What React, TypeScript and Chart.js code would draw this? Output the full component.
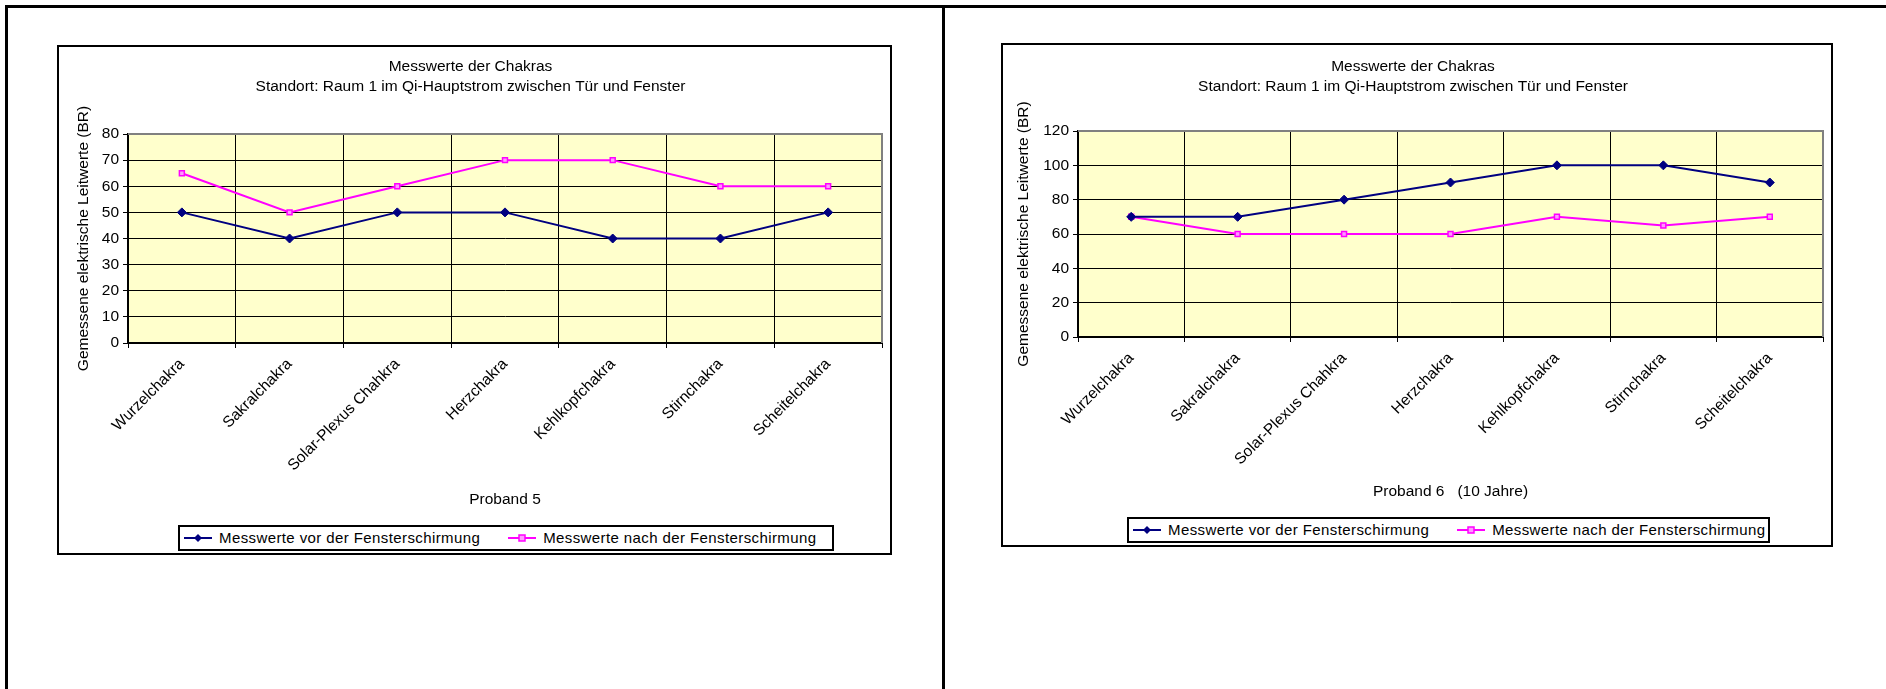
import React, { useEffect, useRef } from "react";
import { Chart, registerables } from "chart.js";

Chart.register(...registerables);

// ---------- data ----------
const categories = [
  "Wurzelchakra",
  "Sakralchakra",
  "Solar-Plexus Chahkra",
  "Herzchakra",
  "Kehlkopfchakra",
  "Stirnchakra",
  "Scheitelchakra",
];
const seriesLabels = [
  "Messwerte vor der Fensterschirmung",
  "Messwerte nach der Fensterschirmung",
];
const proband5Vor = [50, 40, 50, 50, 40, 40, 50];
const proband5Nach = [65, 50, 60, 70, 70, 60, 60];
const proband6Vor = [70, 70, 80, 90, 100, 100, 90];
const proband6Nach = [70, 60, 60, 60, 70, 65, 70];
const titleLines = [
  "Messwerte der Chakras",
  "Standort: Raum 1 im Qi-Hauptstrom zwischen Tür und Fenster",
];
const yAxisTitle = "Gemessene elektrische Leitwerte (BR)";
const xTitle5 = "Proband 5";
const xTitle6 = "Proband 6   (10 Jahre)";
const yMax5 = 80;
const yStep5 = 10;
const yMax6 = 120;
const yStep6 = 20;

// ---------- styles ----------
const FONT = "'Liberation Sans', Arial, sans-serif";
const FONT_SIZE = 15.5;
const NAVY = "#000080";
const MAGENTA = "#FF00FF";
const GREY = "#808080";
const PLOT_BG = "#FFFFCC";

const plotBgPlugin = {
  id: "plotBg",
  beforeDraw(chart: any) {
    const { ctx, chartArea: a } = chart;
    ctx.save();
    ctx.fillStyle = PLOT_BG;
    ctx.fillRect(a.left, a.top, a.right - a.left, a.bottom - a.top);
    ctx.restore();
  },
  beforeDatasetsDraw(chart: any) {
    const { ctx, chartArea: a } = chart;
    ctx.save();
    ctx.strokeStyle = GREY;
    ctx.lineWidth = 2;
    ctx.beginPath();
    ctx.moveTo(a.left, a.top);
    ctx.lineTo(a.right, a.top);
    ctx.lineTo(a.right, a.bottom);
    ctx.stroke();
    ctx.restore();
  },
};

type ChartProps = {
  left: number;
  top: number;
  width: number;
  height: number;
  vor: number[];
  nach: number[];
  yMax: number;
  yStep: number;
  xTitle: string;
  yWidth: number;
  yTitlePad: number;
  xHeight: number;
  titlePadTop: number;
  titlePadBottom: number;
  legendLeft: number;
  legendTop: number;
  legendWidth: number;
};

function LegendMarker({ kind }: { kind: number }) {
  const color = kind === 0 ? NAVY : MAGENTA;
  return (
    <svg width={28} height={12} style={{ display: "block", flex: "none" }}>
      <line x1={0} y1={6} x2={28} y2={6} stroke={color} strokeWidth={2} />
      {kind === 0 ? (
        <polygon points="14,2 18,6 14,10 10,6" fill={NAVY} />
      ) : (
        <rect x={11} y={3} width={6} height={6} fill="#FF99FF" stroke={MAGENTA} strokeWidth={1.5} />
      )}
    </svg>
  );
}

function ChakraChart(p: ChartProps) {
  const ref = useRef<HTMLCanvasElement | null>(null);
  const innerW = p.width - 4;
  const innerH = p.height - 4;

  useEffect(() => {
    if (!ref.current) return;
    const font = { family: FONT, size: FONT_SIZE };
    const n = categories.length;
    const chart = new Chart(ref.current, {
      type: "line",
      data: {
        labels: categories,
        datasets: [
          {
            label: seriesLabels[0],
            data: p.vor,
            borderColor: NAVY,
            backgroundColor: NAVY,
            borderWidth: 2,
            pointStyle: "rectRot",
            pointRadius: 4.5,
            pointBackgroundColor: NAVY,
            pointBorderColor: NAVY,
            pointBorderWidth: 1,
            tension: 0,
          },
          {
            label: seriesLabels[1],
            data: p.nach,
            borderColor: MAGENTA,
            backgroundColor: MAGENTA,
            borderWidth: 2,
            pointStyle: "rect",
            pointRadius: 3.5,
            pointBackgroundColor: "#FF99FF",
            pointBorderColor: MAGENTA,
            pointBorderWidth: 1.5,
            tension: 0,
          },
        ],
      },
      options: {
        animation: false,
        responsive: false,
        devicePixelRatio: 1,
        layout: { padding: { left: 0, right: 8, top: 0, bottom: 28 } },
        plugins: {
          legend: { display: false },
          tooltip: { enabled: false },
          title: {
            display: true,
            text: titleLines,
            color: "#000",
            font: { family: FONT, size: FONT_SIZE, weight: "normal", lineHeight: 20 / FONT_SIZE },
            padding: { top: p.titlePadTop, bottom: p.titlePadBottom },
          },
        },
        scales: {
          x: {
            type: "category",
            offset: true,
            grid: {
              offset: true,
              color: (c: any) => (c.index === n ? GREY : "#000"),
              lineWidth: 1,
              tickLength: 5,
              tickColor: "#000",
            },
            border: { color: "#000", width: 2 },
            ticks: {
              minRotation: 45,
              maxRotation: 45,
              autoSkip: false,
              font,
              color: "#000",
              padding: 7,
            },
            title: {
              display: true,
              text: p.xTitle,
              font,
              color: "#000",
              padding: { top: 0, bottom: 16 },
            },
            afterFit: (s: any) => {
              s.height = p.xHeight;
            },
          },
          y: {
            min: 0,
            max: p.yMax,
            ticks: { stepSize: p.yStep, font, color: "#000", padding: 4 },
            grid: {
              color: (c: any) => (c.tick && c.tick.value === p.yMax ? GREY : "#000"),
              lineWidth: 1,
              tickLength: 5,
              tickColor: "#000",
            },
            border: { color: "#000", width: 1.5 },
            title: {
              display: true,
              text: yAxisTitle,
              font,
              color: "#000",
              padding: { top: p.yTitlePad, bottom: 0 },
            },
            afterFit: (s: any) => {
              s.width = p.yWidth;
            },
          },
        },
      } as any,
      plugins: [plotBgPlugin],
    });
    return () => chart.destroy();
  }, []);

  return (
    <>
      <div
        style={{
          position: "absolute",
          left: p.left,
          top: p.top,
          width: p.width,
          height: p.height,
          border: "2px solid #000",
          boxSizing: "border-box",
          background: "#fff",
        }}
      >
        <canvas
          ref={ref}
          width={innerW}
          height={innerH}
          style={{ display: "block", width: innerW, height: innerH }}
        />
      </div>
      <div
        style={{
          position: "absolute",
          left: p.legendLeft,
          top: p.legendTop,
          width: p.legendWidth,
          height: 26,
          border: "2px solid #000",
          boxSizing: "border-box",
          background: "#fff",
          display: "flex",
          alignItems: "center",
          paddingLeft: 4,
          fontFamily: FONT,
          fontSize: 15,
          letterSpacing: "0.4px",
          color: "#000",
          whiteSpace: "nowrap",
        }}
      >
        {seriesLabels.map((lab, i) => (
          <div
            key={lab}
            style={{ display: "flex", alignItems: "center", marginLeft: i === 0 ? 0 : 28 }}
          >
            <LegendMarker kind={i} />
            <span style={{ marginLeft: 7, lineHeight: "20px" }}>{lab}</span>
          </div>
        ))}
      </div>
    </>
  );
}

export default function App() {
  const line = (l: number, t: number, w: number, h: number) => (
    <div style={{ position: "absolute", left: l, top: t, width: w, height: h, background: "#000" }} />
  );
  return (
    <div
      style={{
        position: "absolute",
        left: 0,
        top: 0,
        width: 1886,
        height: 689,
        overflow: "hidden",
        background: "#fff",
      }}
    >
      {line(5, 5, 1881, 3)}
      {line(5, 5, 3, 684)}
      {line(942, 5, 3, 684)}
      <ChakraChart
        left={57}
        top={45}
        width={835}
        height={510}
        vor={proband5Vor}
        nach={proband5Nach}
        yMax={yMax5}
        yStep={yStep5}
        xTitle={xTitle5}
        yWidth={69}
        yTitlePad={15}
        xHeight={182}
        titlePadTop={10}
        titlePadBottom={37}
        legendLeft={178}
        legendTop={525}
        legendWidth={656}
      />
      <ChakraChart
        left={1001}
        top={43}
        width={832}
        height={504}
        vor={proband6Vor}
        nach={proband6Nach}
        yMax={yMax6}
        yStep={yStep6}
        xTitle={xTitle6}
        yWidth={75}
        yTitlePad={11}
        xHeight={180}
        titlePadTop={12}
        titlePadBottom={34}
        legendLeft={1127}
        legendTop={517}
        legendWidth={643}
      />
    </div>
  );
}
